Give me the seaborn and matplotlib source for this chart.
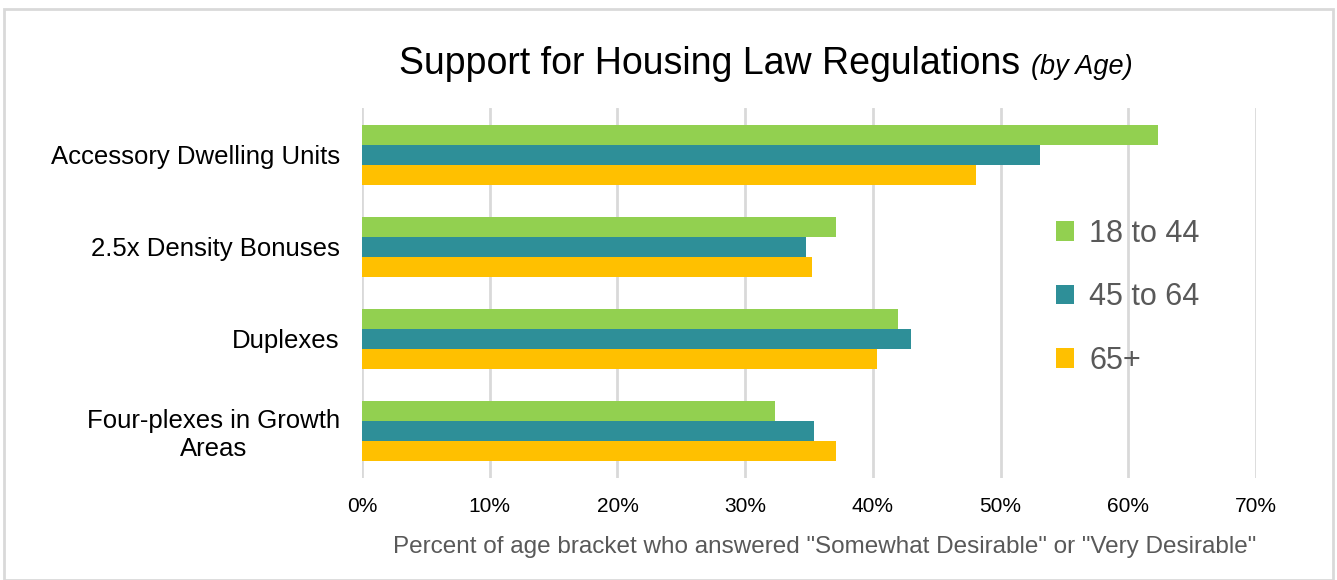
import pandas as pd
import seaborn as sns
import matplotlib.pyplot as plt
from matplotlib.patches import Rectangle
from matplotlib.ticker import PercentFormatter

# data (percent)
regulations = ['Accessory Dwelling Units', '2.5x Density Bonuses', 'Duplexes',
               'Four-plexes in Growth\nAreas']
age_groups = ['18 to 44', '45 to 64', '65+']
young = [62.3, 37.1, 42.0, 32.3]
middle = [53.1, 34.8, 43.0, 35.4]
older = [48.1, 35.2, 40.3, 37.1]
colors = ['#92D050', '#2E8F98', '#FFC000']

df = pd.DataFrame({
    'regulation': regulations * 3,
    'age': [a for a in age_groups for _ in regulations],
    'pct': young + middle + older,
})

sns.set_theme(style='white')
plt.rcParams['font.family'] = ['Liberation Sans', 'DejaVu Sans']

fig = plt.figure(figsize=(13.37, 5.8), dpi=100)
ax = fig.add_axes([0.2708, 0.176, 0.6686, 0.638])

sns.barplot(data=df, y='regulation', x='pct', hue='age', palette=colors,
            order=regulations, hue_order=age_groups, width=0.65,
            orient='h', saturation=1, linewidth=0, ax=ax, legend=True)

ax.set_xlim(0, 70)
ax.set_ylim(3.51, -0.51)
ax.set_xticks(range(0, 71, 10))
ax.xaxis.set_major_formatter(PercentFormatter(decimals=0))
ax.grid(axis='x', color='#D9D9D9', linewidth=2)
ax.set_axisbelow(True)
for s in ax.spines.values():
    s.set_visible(False)
ax.tick_params(axis='x', labelsize=15, labelcolor='#000000', pad=14, length=0)
ax.tick_params(axis='y', labelsize=18.5, labelcolor='#000000', length=0, pad=16)
for lbl in ax.get_yticklabels():
    lbl.set_multialignment('center')
ax.set_ylabel('')
ax.set_xlabel('Percent of age bracket who answered "Somewhat Desirable" or "Very Desirable"',
              fontsize=17.5, color='#595959', labelpad=14)
ax.xaxis.label.set_x(0.517)

fig.text(0.771, 0.89, 'Support for Housing Law Regulations ', fontsize=27,
         ha='right', va='center', color='#000000')
fig.text(0.771, 0.885, '(by Age)', fontsize=19.5, style='italic',
         ha='left', va='center', color='#000000')

leg = ax.legend(loc='upper left', bbox_to_anchor=(0.745, 0.775), frameon=False,
                fontsize=22, labelspacing=1.1, handlelength=0.6, handleheight=0.6,
                handletextpad=0.5)
for t in leg.get_texts():
    t.set_color('#595959')

fig.patches.append(Rectangle((0.003, 0.0), 0.994, 0.985, transform=fig.transFigure,
                             fill=False, edgecolor='#D9D9D9', linewidth=2))

fig.savefig('out.png', dpi=100)
